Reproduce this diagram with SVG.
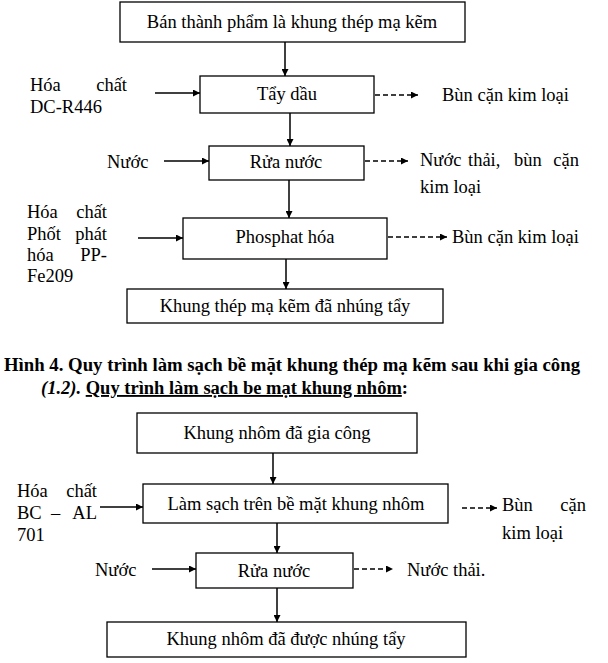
<svg xmlns="http://www.w3.org/2000/svg" width="608" height="663" viewBox="0 0 608 663">
<defs>
<marker id="ah" viewBox="0 0 10 10" refX="10" refY="5" markerWidth="9" markerHeight="7" markerUnits="userSpaceOnUse" orient="auto"><path d="M0,0 L10,5 L0,10 z" fill="#000"/></marker>
<marker id="ahd" viewBox="0 0 10 10" refX="10" refY="5" markerWidth="8" markerHeight="7" markerUnits="userSpaceOnUse" orient="auto"><path d="M0,0 L10,5 L0,10 z" fill="#000"/></marker>
<style>
text{font-family:"Liberation Serif","Times New Roman",serif;font-size:18.5px;fill:#000}
.c{text-anchor:middle}
.e{text-anchor:end}
.box{fill:#fff;stroke:#000;stroke-width:1.3}
.ln{stroke:#000;stroke-width:1.5;fill:none;marker-end:url(#ah)}
.dl{stroke:#000;stroke-width:1.5;fill:none;stroke-dasharray:5 3;marker-end:url(#ahd)}
.b{font-weight:bold}
</style>
</defs>
<rect width="608" height="663" fill="#fff"/>

<g id="connectors">
<line class="ln" x1="285" y1="42" x2="285" y2="76"/>
<line class="ln" x1="155" y1="93" x2="200" y2="93"/>
<line class="dl" x1="375" y1="95" x2="418" y2="95"/>
<line class="ln" x1="290" y1="113" x2="290" y2="146"/>
<line class="ln" x1="164" y1="161" x2="209" y2="161"/>
<line class="dl" x1="365" y1="161" x2="408" y2="161"/>
<line class="ln" x1="289" y1="180" x2="289" y2="218"/>
<line class="ln" x1="138" y1="238" x2="183" y2="238"/>
<line class="dl" x1="388" y1="237" x2="447" y2="237"/>
<line class="ln" x1="286" y1="259" x2="286" y2="289"/>

<line class="ln" x1="273" y1="453" x2="273" y2="484"/>
<line class="ln" x1="100" y1="507" x2="143" y2="507"/>
<line class="dl" x1="462" y1="508" x2="497" y2="508"/>
<line class="ln" x1="277" y1="523" x2="277" y2="553"/>
<line class="ln" x1="152" y1="569" x2="196" y2="569"/>
<line class="dl" x1="354" y1="569" x2="393" y2="569"/>
<line class="ln" x1="277" y1="588" x2="277" y2="622"/>
</g>

<g id="n1"><rect class="box" x="120" y="2" width="345" height="40"/><text class="c" x="292" y="28">Bán thành phẩm là khung thép mạ kẽm</text></g>
<g id="n2"><rect class="box" x="200" y="76" width="174" height="37"/><text class="c" x="287" y="100">Tẩy dầu</text></g>
<g id="in1"><text x="30" y="91">Hóa</text><text class="e" x="127" y="91">chất</text><text x="30" y="113">DC-R446</text></g>
<g id="out1"><text x="442" y="101">Bùn cặn kim loại</text></g>
<g id="n3"><rect class="box" x="209" y="146" width="155" height="34"/><text class="c" x="286" y="168">Rửa nước</text></g>
<g id="in2"><text x="107" y="168">Nước</text></g>
<g id="out2"><text x="420" y="166">Nước</text><text x="468" y="166">thải,</text><text x="514" y="166">bùn</text><text class="e" x="579" y="166">cặn</text><text x="420" y="193">kim loại</text></g>
<g id="n4"><rect class="box" x="183" y="218" width="204" height="41"/><text class="c" x="285" y="243">Phosphat hóa</text></g>
<g id="in3"><text x="27" y="218">Hóa</text><text class="e" x="107" y="218">chất</text><text x="27" y="240">Phốt</text><text class="e" x="107" y="240">phát</text><text x="27" y="261">hóa</text><text class="e" x="107" y="261">PP-</text><text x="27" y="282">Fe209</text></g>
<g id="out3"><text x="452" y="243">Bùn cặn kim loại</text></g>
<g id="n5"><rect class="box" x="127" y="289" width="316" height="34"/><text class="c" x="285" y="312">Khung thép mạ kẽm đã nhúng tẩy</text></g>

<g id="caption">
<text class="b" x="4" y="371" textLength="576" lengthAdjust="spacingAndGlyphs">Hình 4. Quy trình làm sạch bề mặt khung thép mạ kẽm sau khi gia công</text>
<text class="b" x="41" y="394"><tspan font-style="italic">(1.2).</tspan> <tspan text-decoration="underline">Quy trình làm sạch be mạt khung nhôm</tspan>:</text>
</g>

<g id="m1"><rect class="box" x="137" y="413" width="280" height="40"/><text class="c" x="277" y="439">Khung nhôm đã gia công</text></g>
<g id="m2"><rect class="box" x="143" y="484" width="305" height="39"/><text class="c" x="296" y="510">Làm sạch trên bề mặt khung nhôm</text></g>
<g id="min1"><text x="17" y="497">Hóa</text><text class="e" x="97" y="497">chất</text><text x="17" y="519">BC</text><text x="51" y="519">–</text><text class="e" x="97" y="519">AL</text><text x="17" y="541">701</text></g>
<g id="mout1"><text x="502" y="511">Bùn</text><text class="e" x="586" y="511">cặn</text><text x="502" y="539">kim loại</text></g>
<g id="m3"><rect class="box" x="196" y="553" width="157" height="35"/><text class="c" x="274" y="577">Rửa nước</text></g>
<g id="min2"><text x="95" y="576">Nước</text></g>
<g id="mout2"><text x="407" y="576">Nước thải.</text></g>
<g id="m4"><rect class="box" x="107" y="622" width="359" height="35"/><text class="c" x="286" y="645">Khung nhôm đã được nhúng tẩy</text></g>
</svg>
